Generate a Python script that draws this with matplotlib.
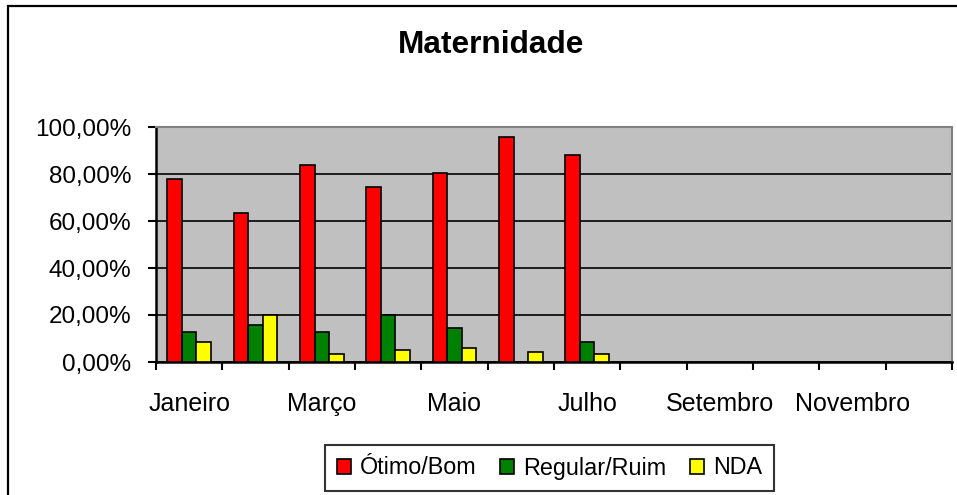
import matplotlib
matplotlib.use("Agg")
import matplotlib.pyplot as plt
from matplotlib.patches import Patch, Rectangle
from matplotlib.ticker import FixedLocator, FuncFormatter
import numpy as np

plt.rcParams['font.family'] = ['Liberation Sans', 'DejaVu Sans']

title = "Maternidade"
months = ["Janeiro", "Fevereiro", "Março", "Abril", "Maio", "Junho", "Julho",
          "Agosto", "Setembro", "Outubro", "Novembro", "Dezembro"]
shown_labels = ["Janeiro", "", "Março", "", "Maio", "", "Julho",
                "", "Setembro", "", "Novembro", ""]
series_names = ["Ótimo/Bom", "Regular/Ruim", "NDA"]
otimo_bom = [77.8, 63.4, 83.9, 74.5, 80.5, 95.9, 88.1]
regular_ruim = [12.6, 15.8, 12.6, 19.9, 14.3, 0.0, 8.3]
nda = [8.3, 19.9, 3.3, 5.1, 5.8, 4.1, 3.3]
yticks = [0, 20, 40, 60, 80, 100]
colors = ["#FF0000", "#008000", "#FFFF00"]

W, H = 957, 495
fig = plt.figure(figsize=(W / 100, H / 100), dpi=100)
ax = fig.add_axes([156 / W, 1 - 362 / H, (952 - 156) / W, (362 - 127) / H])
ax.set_facecolor("#C0C0C0")

n = len(months)
bw = 0.22
series = [otimo_bom, regular_ruim, nda]
for k, (vals, c, name) in enumerate(zip(series, colors, series_names)):
    x = np.arange(len(vals)) + 0.5 + (k - 1) * bw
    ax.bar(x, vals, width=bw, color=c, edgecolor="black", linewidth=1.2,
           label=name, zorder=3)

ax.set_xlim(0, n)
ax.set_ylim(0, 100)
ax.set_yticks(yticks)
ax.yaxis.set_major_formatter(FuncFormatter(lambda v, p: f"{v:.2f}%".replace(".", ",")))
ax.yaxis.grid(True, color="black", linewidth=1.2, zorder=1)
ax.set_axisbelow(True)

ax.xaxis.set_major_locator(FixedLocator(np.arange(n + 1)))
ax.xaxis.set_major_formatter(FuncFormatter(lambda v, p: ""))
ax.xaxis.set_minor_locator(FixedLocator(np.arange(n) + 0.5))
ax.set_xticklabels(shown_labels, minor=True)
ax.tick_params(axis="x", which="minor", length=0, pad=21.5, labelsize=18)
ax.tick_params(axis="x", which="major", length=6, width=1.5, direction="out")
ax.tick_params(axis="y", length=6, width=1.5, direction="out", pad=12, labelsize=17.5)

for s in ["left", "bottom"]:
    ax.spines[s].set_color("black")
    ax.spines[s].set_linewidth(1.8)
for s in ["top", "right"]:
    ax.spines[s].set_color("#808080")
    ax.spines[s].set_linewidth(1.5)

fig.text(491 / W, 1 - 45 / H, title, ha="center", va="center",
         fontsize=22.8, fontweight="bold")

handles = [Patch(facecolor=c, edgecolor="black", linewidth=1.2) for c in colors]
leg = fig.legend(handles, series_names, loc="center", ncol=3,
                 bbox_to_anchor=(549.5 / W, 1 - 468 / H), fontsize=16.8,
                 frameon=True, fancybox=False, edgecolor="black",
                 handlelength=0.6, handleheight=0.6, handletextpad=0.4,
                 columnspacing=1.0, borderpad=0.5, borderaxespad=0)
leg.get_frame().set_linewidth(1.5)

fig.patches.append(Rectangle((8 / W, -0.1), 1.2, 1 - 6 / H + 0.1,
                             transform=fig.transFigure, fill=False,
                             edgecolor="black", linewidth=1.6, clip_on=False))

fig.savefig("out.png", dpi=100)
